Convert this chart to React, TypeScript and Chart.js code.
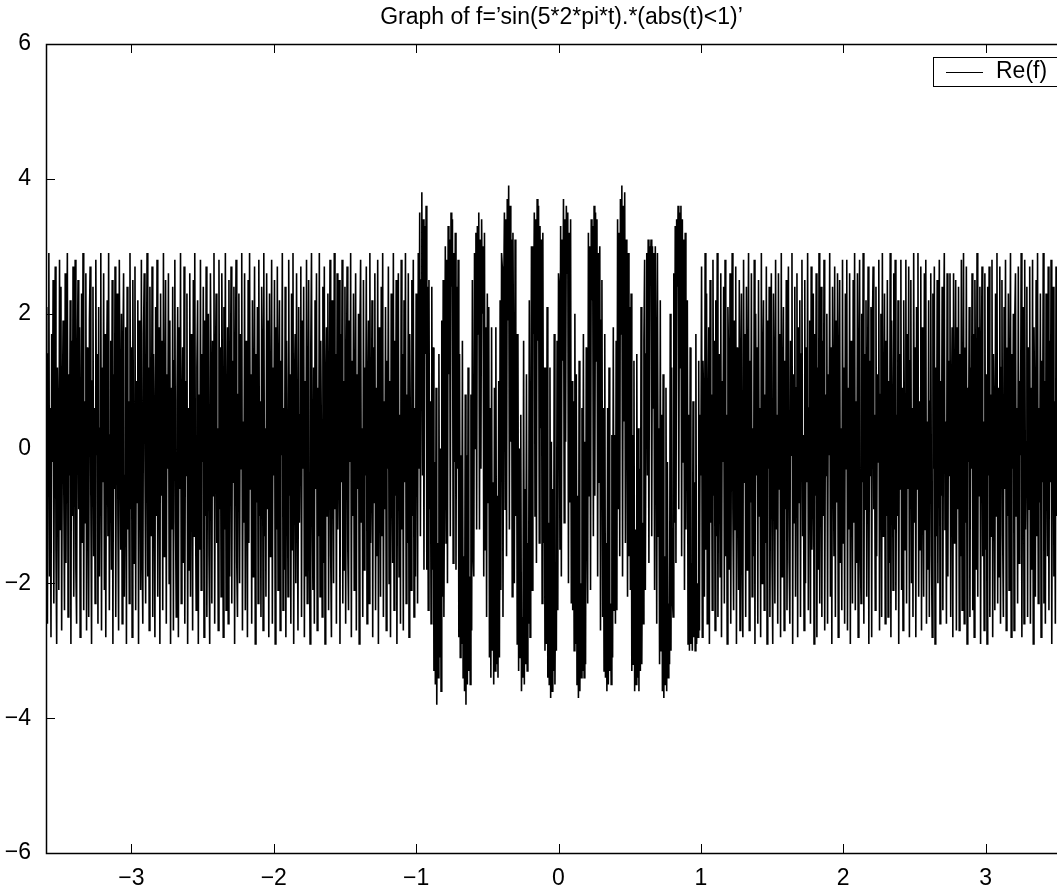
import React, { useEffect, useRef } from "react";
import { Chart, registerables } from "chart.js";

Chart.register(...registerables);

const TITLE = "Graph of f=\u2019sin(5*2*pi*t).*(abs(t)<1)\u2019";
const SERIES_LABEL = "Re(f)";
const T_START = -3.6;
const T_STEP = 0.005;
const X_MIN = -3.6;
const X_MAX = 3.6;
const Y_MIN = -6;
const Y_MAX = 6;
const X_TICKS = [-3, -2, -1, 0, 1, 2, 3];
const Y_TICKS = [-6, -4, -2, 0, 2, 4, 6];

// t = -3.600 .. -1.000
const RE_F_LEFT = [
  2.1, -0.8, -2.6, 1.4, 2.9, -1.9, 0.6, -2.8, 1.7, -0.2, 2.5, -2.3, 0.9, 2.7, -1.5, -2.9, 1.2, 0.3, -2.1, 2.8,
  -1.2, 2.4, -2.7, 0.5, 1.9, -0.6, -2.4, 2.6, -1.7, 0.8, 2.9, -2.5, 1.1, -0.4, 2.2, -2.9, 1.6, -1.0, 2.7, -2.2,
  0.4, 2.8, -1.8, -2.6, 1.3, 2.5, -0.9, 1.8, -2.8, 0.1, 2.3, -1.4, 2.9, -2.4, 0.7, -1.1, 2.6, -2.7, 1.5, -0.3,
  -2.5, 1.9, 2.7, -0.7, -2.9, 1.0, 2.4, -1.6, 0.6, -2.3, 2.8, -0.1, 1.4, -2.6, 2.1, -1.9, 0.3, 2.9, -2.7, 1.2,
  -0.5, 2.6, -2.1, 1.7, -2.8, 0.8, 2.2, -1.3, 2.9, -2.4, 0.2, 1.6, -1.8, 2.5, -2.9, 1.1, -0.6, 2.7, -2.5, 0.9,
  2.3, -1.0, -2.7, 2.8, 0.5, -1.5, 2.0, -2.6, 1.3, 2.6, -2.2, -0.4, 1.8, -2.9, 2.4, -1.2, 0.7, -2.3, 2.9, -0.9,
  1.5, -2.8, 2.5, 0.0, -1.7, 2.7, -2.4, 1.0, -0.8, 2.2, -2.9, 1.9, 0.4, -2.1, 2.8, -1.4, -2.6, 1.7, 2.6, -0.2,
  -2.3, 0.8, 2.9, -1.9, 1.2, -2.7, 2.4, -0.5, -1.3, 2.7, -2.5, 1.4, 0.1, -2.8, 2.1, -1.0, 2.8, -2.2, 0.6, 1.8,
  -2.9, 2.3, -0.7, 1.6, -2.4, 2.9, -1.6, 0.3, 2.5, -2.6, 1.1, -0.3, 2.6, -2.0, 1.9, -2.9, 0.9, -1.2, 2.4, -2.7,
  1.3, 2.8, -1.1, -2.5, 0.7, 2.1, -2.8, 1.8, -0.6, 2.9, -2.3, 0.2, 1.5, -1.7, 2.7, -2.6, 1.0, -0.4, 2.3, -2.9,
  0.6, -1.8, 2.6, -2.2, 1.7, 0.4, -2.7, 2.5, -1.3, 2.9, -0.8, -2.4, 1.2, 2.2, -2.9, 0.8, -1.5, 2.8, -2.1, 1.4,
  -0.2, 2.4, -2.8, 1.9, -1.0, 2.7, -2.5, 0.5, 2.0, -1.6, -2.9, 2.6, 0.9, -2.3, 1.6, -0.7, 2.9, -2.6, 1.1, 2.3,
  -1.4, 0.3, -2.7, 2.8, -0.9, 1.5, -2.2, 2.6, 0.7, -2.8, 2.1, -1.2, 2.9, -2.4, 0.0, 1.8, -2.6, 2.5, -1.9, 0.6,
  2.7, -2.3, 1.3, -0.5, 2.4, -2.9, 1.0, 2.8, -1.7, -2.5, 0.8, 2.3, -2.0, 1.7, -0.3, 2.9, -2.7, 0.4, -1.1, 2.6,
  -2.4, 1.6, 0.2, -2.8, 2.5, -1.4, 2.9, -0.6, 1.1, -2.6, 2.2, -1.9, 0.5, 2.7, -2.9, 1.4, -0.8, 2.1, -2.3, 2.8,
  -1.0, 0.7, -2.5, 2.4, 1.5, -2.7, 2.9, -1.3, 0.3, -2.2, 2.6, -0.9, 1.9, -2.8, 2.3, -1.6, 0.1, 2.8, -2.6, 1.2,
  -0.4, 2.5, -2.9, 1.8, -1.2, 2.7, -2.1, 0.9, 2.2, -2.7, 1.3, -0.1, 2.9, -2.4, 0.6, -1.8, 2.4, -2.8, 1.6, 0.2,
  -2.2, 2.8, -0.7, 1.1, -2.6, 2.3, -1.5, 2.9, -2.9, 0.8, 1.7, -2.0, 2.6, -0.5, -2.7, 2.1, -1.1, 0.5, 2.7, -2.5,
  1.9, -0.3, 2.4, -2.8, 1.0, -1.9, 2.8, -2.3, 0.4, 2.5, -1.4, -2.9, 1.5, 2.9, -0.8, -2.1, 1.2, -2.6, 2.2, -0.6,
  2.6, -2.7, 0.9, -1.3, 2.9, -2.2, 1.6, 0.0, -2.5, 2.4, -1.7, 2.7, -2.9, 0.7, 1.8, -1.0, 2.3, -2.4, 0.3, 2.8,
  -1.6, -2.8, 2.2, 0.6, -2.0, 2.9, -0.9, 1.4, -2.6, 2.6, -1.2, 0.2, 2.5, -2.9, 1.7, -0.5, 2.8, -2.3, 1.0, -1.8,
  2.4, -2.6, 0.8, 2.7, -1.5, -2.4, 1.9, -0.2, 2.9, -2.8, 1.3, -1.0, 2.3, -2.1, 0.5, 2.6, -2.7, 1.1, -0.6, 2.0,
  -2.9, 1.7, 2.8, -1.1, 0.3, -2.5, 2.5, -1.8, 1.2, -0.4, 2.7, -2.6, 0.6, 1.9, -2.3, 2.9, -1.4, -0.1, 2.2, -2.8,
  1.5, -0.8, 2.6, -2.4, 0.9, -1.6, 2.8, -2.9, 1.8, 0.4, -2.2, 2.4, -1.3, 2.9, -2.5, 0.7, -0.9, 2.1, -2.7, 1.3,
  -0.3, 2.7, -2.0, 1.0, -2.8, 2.3, 0.1, -1.7, 2.9, -2.4, 1.6, -0.7, 2.5, -2.9, 1.1, 2.6, -1.9, 0.5, -2.6, 2.8,
  -1.2, 1.4, -2.7, 2.2, -0.5, 2.9, -2.3, 0.8, -1.4, 2.6, -2.8, 1.7, 0.2, -2.1, 2.5, -1.0, 2.8, -2.5, 0.6, -1.9,
  2.3,
];

// t = -0.995 .. 0.995
const RE_F_MIDDLE = [
  1.4, -2.3, 2.9, -0.3, 3.5, -1.3, 2.5, 3.8, -0.4, 3.4, -1.8, 3.3, 1.4, 3.6, -1.8, 2.4, -2.4, 2.5, -0.9, 0.7,
  -2.6, 2.4, -1.8, 1.5, -3.3, -0.2, -3.5, 0.9, -3.8, -1.4, -3.4, 1.4, -3.1, 0.0, -3.6, 1.9, -2.2, 2.5, -2.5, 0.2,
  3.0, -1.4, 2.8, -2.0, 3.3, 1.1, 3.1, -1.3, 3.5, 2.4, 3.4, -1.7, 2.9, -0.2, 3.2, -1.8, 2.4, -0.3, 2.8, -2.8,
  1.4, -3.1, -0.1, -2.9, 1.6, -3.4, -1.6, -3.6, 0.8, -3.8, -0.1, -3.5, 1.2, -3.3, -1.9, -3.5, 0.8, -2.7, 2.5, -1.5,
  -1.9, 2.9, 0.0, 3.2, -1.2, 3.3, 1.7, 3.5, -1.2, 3.1, -0.3, 3.4, 2.0, 3.0, -1.9, 3.2, -1.5, 1.8, -2.5, 2.3,
  -0.8, 2.1, -3.1, 0.6, -3.4, 1.8, -3.0, -0.5, -3.5, 0.9, -3.3, 1.8, -3.2, -0.7, -3.4, 1.0, -3.1, 2.2, -2.1, 2.9,
  2.7, -2.5, 2.2, 3.5, -0.9, 3.4, -1.6, 3.7, 1.9, 3.9, -1.2, 3.6, 0.1, 3.1, -2.2, 3.2, 0.9, -2.0, 3.1, -1.0,
  1.7, -2.9, 1.7, -3.3, 0.0, -3.1, 0.5, -3.6, -2.5, -3.4, 1.6, -3.5, -0.6, -3.2, 1.1, -3.3, -1.4, -2.6, 2.2, -2.8,
  -1.1, 3.0, -2.1, 3.0, 1.7, 3.5, -1.0, 3.4, -1.7, 3.7, 1.6, 3.6, -1.4, 3.3, 0.3, 3.1, -2.3, 3.2, -1.4, 1.2,
  -3.0, 1.2, -2.9, 2.1, -3.4, -1.1, -3.5, 1.2, -3.7, 0.1, -3.6, -0.6, -3.3, 1.7, -3.5, -1.7, -3.0, 1.6, -2.4, 2.6,
  2.4, -1.5, 3.3, -1.9, 3.1, 1.3, 3.7, -1.1, 3.4, 0.1, 3.6, 2.6, 3.5, -2.0, 3.2, -0.8, 3.4, -2.3, 1.0, -2.4,
  0.7, -3.0, 2.0, -2.9, 1.1, -3.5, -0.7, -3.7, 1.3, -3.6, -2.0, -3.4, 0.6, -3.3, 1.7, -3.4, 0.1, -3.2, 1.5, -0.7,
  -2.3, 3.2, -0.7, 3.0, -2.1, 3.4, 2.2, 3.3, -1.3, 3.6, -0.7, 3.5, 1.3, 3.4, -1.9, 2.9, -0.5, 3.0, -2.7, 1.9,
  2.5, -2.5, 0.6, -3.3, 1.7, -3.4, -1.4, -3.6, 0.6, -3.5, 1.2, -3.3, -2.3, -3.5, 0.2, -3.1, 1.8, -2.4, 0.2, -2.6,
  1.6, -2.4, 3.4, -0.9, 3.2, -1.6, 3.7, 1.7, 3.9, -1.9, 3.6, 0.4, 3.8, -1.4, 3.1, 1.7, -2.2, 2.9, -1.6, 2.1,
  -2.1, 2.3, -3.3, 0.2, -3.2, 1.3, -3.6, -1.2, -3.5, 1.4, -3.4, 0.3, -3.6, -0.3, -3.3, 2.1, -3.2, -1.1, -2.6, 1.6,
  2.8, -2.1, 1.4, 2.9, -0.4, 3.1, -1.7, 3.0, 2.5, 3.1, -1.3, 3.0, 0.6, 2.9, -2.1, 3.0, 1.1, -2.6, 2.9, -1.3,
  0.3, -3.2, 2.2, -3.0, 0.5, -3.6, 1.1, -3.7, -1.6, -3.5, 0.9, -3.6, -0.2, -3.4, -2.3, -3.2, 2.0, -3.0, 1.2, -2.2,
  -2.5, 2.6, -1.1, 3.3, -1.7, 3.4, 2.4, 3.6, -0.9, 3.5, 1.2, 3.6, -1.6, 3.4, -0.2, 3.1, -2.1, 3.2, -1.2, 0.9,
  2.2, -2.9, 0.5, -3.0, 1.5, -2.9, -1.7, -3.0, 0.7, -2.8, -0.5, -3.0, 1.7, -2.9, -2.0, -2.8, 1.3, -2.7, 0.5,
];

// t = 1.000 .. 3.600
const RE_F_RIGHT = [
  -0.4, 2.7, -2.8, 1.3, 0.6, -2.2, 2.9, -1.5, 2.3, -2.6, 0.2, 1.8, -2.9, 2.5, -1.1, 0.8, -2.4, 2.8, -0.7, 1.6,
  -2.7, 2.2, -1.3, 2.9, -2.5, 0.4, 1.4, -1.9, 2.6, -2.8, 1.0, -0.2, 2.4, -2.3, 2.8, -1.6, 0.5, -2.9, 2.1, 1.2,
  -1.8, 2.6, -2.6, 0.7, 2.9, -0.9, -2.4, 1.9, -1.2, 2.7, -2.9, 1.5, 0.0, -2.1, 2.5, -2.7, 1.1, 2.3, -1.5, -2.8,
  2.8, -0.5, 1.7, -2.5, 2.4, -1.8, 0.9, 2.9, -2.7, 1.3, -0.8, 2.6, -2.2, 0.3, -1.6, 2.8, -2.9, 2.0, -0.4, 1.5,
  -2.6, 2.5, -1.0, 0.6, -2.8, 2.9, -2.0, 1.2, 2.2, -2.4, 0.8, -1.4, 2.7, -2.9, 1.9, -0.3, 2.4, -2.5, 0.1, 2.6,
  -1.7, -2.9, 2.3, 1.0, -2.3, 2.8, -1.2, 0.5, -2.6, 2.6, -0.6, 1.7, -2.8, 2.9, -1.9, 0.7, 2.1, -2.7, 1.3, -0.9,
  2.5, -2.4, 0.4, 2.7, -1.7, -2.6, 1.6, -0.1, 2.9, -2.9, 1.1, -1.1, 2.4, -2.2, 0.9, 2.6, -2.8, 1.8, -0.8, 2.2,
  -2.5, 1.4, 2.8, -1.3, 0.2, -2.7, 2.5, -2.0, 1.5, -0.5, 2.9, -2.4, 0.6, 1.9, -2.6, 2.7, -1.5, -0.2, 2.3, -2.9,
  1.7, -0.7, 2.6, -2.8, 1.2, -1.8, 2.9, -2.3, 0.3, 2.4, -2.5, 1.6, -1.0, 2.8, -2.7, 0.8, -0.4, 2.0, -2.6, 1.1,
  -0.1, 2.9, -2.2, 1.5, -2.9, 2.4, 0.5, -1.6, 2.7, -2.5, 1.9, -0.8, 2.6, -2.8, 1.0, 2.5, -1.7, 0.3, -2.4, 2.8,
  -1.4, 1.2, -2.6, 2.3, -0.3, 2.8, -2.7, 0.9, -1.2, 2.6, -2.9, 1.6, 0.4, -2.3, 2.5, -1.1, 2.9, -2.4, 0.7, -1.7,
  2.6, -2.8, 1.0, 2.8, -1.4, -2.3, 2.0, -0.5, 2.9, -2.6, 1.4, -0.9, 2.2, -2.2, 0.6, 2.7, -2.9, 1.3, -0.4, 2.1,
  -2.8, 1.8, 2.7, -0.9, 0.5, -2.4, 2.4, -1.6, 1.1, -0.2, 2.8, -2.7, 0.8, 2.0, -2.5, 2.9, -1.3, 0.0, 2.3, -2.6,
  1.6, -1.0, 2.5, -2.5, 1.0, -1.7, 2.9, -2.8, 1.9, 0.6, -2.1, 2.6, -1.2, 2.8, -2.4, 0.5, -1.0, 2.2, -2.9, 1.4,
  -0.6, 2.8, -2.1, 0.9, -2.7, 2.2, 0.3, -1.5, 2.8, -2.3, 1.7, -0.6, 2.7, -2.8, 1.3, 2.5, -2.0, 0.6, -2.5, 2.9,
  -1.1, 1.5, -2.8, 2.1, -0.6, 2.9, -2.2, 0.7, -1.5, 2.7, -2.7, 1.8, 0.1, -2.2, 2.6, -1.2, 2.8, -2.6, 0.4, -1.8,
  2.2, -2.5, 0.7, 2.6, -1.6, -2.8, 2.3, -0.3, 2.7, -2.9, 1.2, -1.3, 2.5, -2.0, 0.8, 2.8, -2.6, 1.0, -0.7, 2.4,
  -2.4, 1.6, 2.9, -1.2, 0.4, -2.6, 2.6, -1.9, 1.3, -0.4, 2.6, -2.5, 0.5, 1.8, -2.8, 2.6, -1.4, 0.2, 2.5, -2.7,
  1.8, -0.9, 2.4, -2.7, 1.4, -1.6, 2.8, -2.4, 0.2, 2.9, -2.6, 1.5, -1.1, 2.7, -2.9, 0.9, -0.2, 2.1, -2.5, 1.2,
  -0.3, 2.6, -2.4, 1.7, -2.8, 2.5, 0.6, -1.8, 2.9, -2.2, 1.8, -0.7, 2.4, -2.9, 1.1, 2.7, -1.6, 0.4, -2.7, 2.6,
  -1.5, 1.1, -2.9, 2.4, -0.4, 2.7, -2.5, 0.8, -1.3, 2.8, -2.8, 1.4, 0.3, -2.4, 2.3, -1.0, 2.9, -2.3, 0.9, -1.9,
  2.7, -2.6, 1.2, 2.5, -1.3, -2.5, 2.1, -0.6, 2.8, -2.7, 1.5, -1.0, 2.3, -2.1, 0.7, 2.9, -2.8, 1.4, -0.3, 2.0,
  -2.7, 1.9, 2.6, -1.0, 0.6, -2.3, 2.7, -1.7, 1.0, -0.1, 2.9, -2.8, 0.7, 2.1, -2.6, 2.8, -1.2, 0.1, 2.4, -2.5,
  1.5, -0.9, 2.7, -2.6, 0.9, -1.8, 2.8, -2.9, 1.8, 0.5, -2.2, 2.5, -1.3, 2.9, -2.3, 0.6, -0.8, 2.3, -2.8, 1.3,
  -0.5, 2.9, -2.3, 1.0, -2.6, 2.3, 0.2, -1.6, 2.7, -2.4, 1.6, -0.5, 2.8, -2.9, 1.2, 2.4, -1.9, 0.7, -2.6, 2.7,
  -1.0, 1.3, -2.7, 2.2, -0.7, 2.8, -2.4, 0.6, -1.4, 2.9, -2.6, 1.9, 0.0, -2.3, 2.6, -1.1, 2.7, -2.5, 0.5, -1.6,
  2.1,
];

const FONT = "'Liberation Sans', Arial, Helvetica, sans-serif";
const FONT_SIZE = 23;

const fmt = (v: number) => (v < 0 ? "\u2212" + Math.abs(v) : String(v));

const decorPlugin = {
  id: "matlabDecor",
  afterDraw(chart: any) {
    const { ctx, chartArea, scales } = chart;
    const { left, right, top, bottom } = chartArea;
    const xs = scales.x;
    const ys = scales.y;
    ctx.save();
    ctx.strokeStyle = "#000";
    ctx.lineWidth = 1;
    const TL = 9;
    ctx.beginPath();
    X_TICKS.forEach((v) => {
      const px = Math.round(xs.getPixelForValue(v)) + 0.5;
      ctx.moveTo(px, bottom);
      ctx.lineTo(px, bottom - TL);
      ctx.moveTo(px, top);
      ctx.lineTo(px, top + TL);
    });
    Y_TICKS.forEach((v) => {
      const py = Math.round(ys.getPixelForValue(v)) + 0.5;
      ctx.moveTo(left, py);
      ctx.lineTo(left + TL, py);
      ctx.moveTo(right, py);
      ctx.lineTo(right - TL, py);
    });
    ctx.stroke();
    ctx.lineWidth = 1.5;
    ctx.strokeRect(Math.round(left) + 0.5, Math.round(top) + 0.5, Math.round(right - left), Math.round(bottom - top));

    // title
    ctx.fillStyle = "#000";
    ctx.font = `${FONT_SIZE}px ${FONT}`;
    ctx.textAlign = "center";
    ctx.textBaseline = "middle";
    ctx.fillText(TITLE, (left + right) / 2 + 3, 18);

    // legend
    const label = chart.data.datasets[0].label;
    const bx = right - 138;
    const by = top + 13;
    const bw = 132;
    const bh = 29;
    ctx.fillStyle = "#fff";
    ctx.fillRect(bx, by, bw, bh);
    ctx.lineWidth = 1;
    ctx.strokeStyle = "#000";
    ctx.strokeRect(bx + 0.5, by + 0.5, bw, bh);
    ctx.beginPath();
    ctx.moveTo(bx + 13, by + 15.5);
    ctx.lineTo(bx + 50, by + 15.5);
    ctx.stroke();
    ctx.fillStyle = "#000";
    ctx.textAlign = "left";
    ctx.fillText(label, bx + 63, by + 15);
    ctx.restore();
  },
};

export default function App() {
  const canvasRef = useRef<HTMLCanvasElement | null>(null);

  useEffect(() => {
    document.body.style.margin = "0";
    const values = [...RE_F_LEFT, ...RE_F_MIDDLE, ...RE_F_RIGHT];
    const points = values.map((y, i) => ({ x: T_START + i * T_STEP, y }));
    const chart = new Chart(canvasRef.current as HTMLCanvasElement, {
      type: "line",
      data: {
        datasets: [
          {
            label: SERIES_LABEL,
            data: points,
            borderColor: "#000",
            borderWidth: 1.6,
            pointRadius: 0,
            fill: false,
            tension: 0,
          },
        ],
      },
      options: {
        animation: false,
        responsive: false,
        devicePixelRatio: 1,
        layout: { padding: { left: 0, right: 9, top: 44, bottom: 0 } },
        plugins: {
          legend: { display: false },
          title: { display: false },
          tooltip: { enabled: false },
        },
        scales: {
          x: {
            type: "linear",
            min: X_MIN,
            max: X_MAX,
            afterBuildTicks: (s: any) => {
              s.ticks = X_TICKS.map((v) => ({ value: v }));
            },
            afterFit: (s: any) => {
              s.height = 32;
            },
            ticks: {
              autoSkip: false,
              maxRotation: 0,
              padding: 4,
              color: "#000",
              font: { family: FONT, size: FONT_SIZE },
              callback: (v: any) => fmt(Number(v)),
            },
            grid: { display: false },
            border: { display: false },
          },
          y: {
            type: "linear",
            min: Y_MIN,
            max: Y_MAX,
            afterBuildTicks: (s: any) => {
              s.ticks = Y_TICKS.map((v) => ({ value: v }));
            },
            afterFit: (s: any) => {
              s.width = 46;
            },
            ticks: {
              autoSkip: false,
              padding: 7,
              color: "#000",
              font: { family: FONT, size: FONT_SIZE },
              callback: (v: any) => fmt(Number(v)),
            },
            grid: { display: false },
            border: { display: false },
          },
        },
      },
      plugins: [decorPlugin],
    });
    return () => chart.destroy();
  }, []);

  return (
    <div style={{ width: 1057, height: 885, overflow: "hidden", position: "relative" }}>
      <canvas ref={canvasRef} width={1080} height={885} style={{ display: "block" }} />
    </div>
  );
}
